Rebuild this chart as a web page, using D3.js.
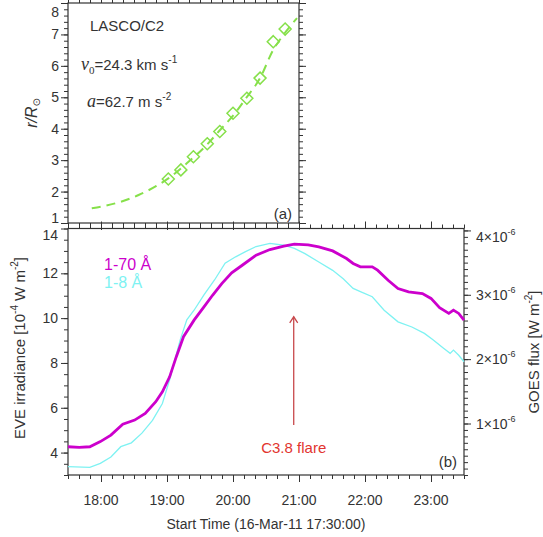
<!DOCTYPE html>
<html>
<head>
<meta charset="utf-8">
<script src="https://cdn.jsdelivr.net/npm/d3@7"></script>
<style>
  body { margin: 0; background: #fff; }
  text { font-family: "Liberation Sans", Arial, Helvetica, sans-serif; fill: #333; }
</style>
</head>
<body>
<div id="chart"></div>
<script>
// Panel (a): LASCO/C2 height-time, hours of 16-Mar-11
var fitHour = [17.86, 18.0, 18.26, 18.57, 18.84, 19.02, 19.3, 19.6, 19.8, 20.03, 20.2, 20.41, 20.61, 20.71, 20.97];
var fitR    = [1.47, 1.52, 1.65, 1.89, 2.18, 2.42, 2.9, 3.48, 3.95, 4.49, 4.98, 5.61, 6.51, 6.83, 7.52];
var obsHour = [19.02, 19.21, 19.40, 19.61, 19.80, 20.0, 20.21, 20.41, 20.61, 20.79];
var obsR    = [2.40, 2.69, 3.11, 3.52, 3.91, 4.49, 4.97, 5.61, 6.77, 7.17];

// Panel (b): EVE 1-70 A irradiance (1e-4 W m^-2) and GOES 1-8 A flux (1e-6 W m^-2)
var eveHour = [17.5, 17.67, 17.83, 17.99, 18.15, 18.33, 18.51, 18.67, 18.83, 18.93, 19.04, 19.14, 19.25, 19.41, 19.56, 19.69, 19.83, 19.98, 20.14, 20.35, 20.56, 20.77, 20.93, 21.14, 21.30, 21.51, 21.72, 21.82, 21.93, 22.11, 22.19, 22.35, 22.50, 22.66, 22.87, 23.0, 23.13, 23.27, 23.34, 23.42, 23.5];
var eveVal  = [4.26, 4.23, 4.26, 4.49, 4.78, 5.27, 5.45, 5.75, 6.27, 6.71, 7.38, 8.27, 9.17, 9.91, 10.5, 11.02, 11.54, 12.02, 12.36, 12.81, 13.06, 13.21, 13.30, 13.27, 13.18, 13.00, 12.66, 12.44, 12.29, 12.29, 12.14, 11.69, 11.32, 11.17, 11.10, 10.88, 10.47, 10.21, 10.36, 10.21, 9.91];
var goesHour = [17.5, 17.83, 17.99, 18.15, 18.30, 18.46, 18.62, 18.78, 18.93, 19.04, 19.12, 19.20, 19.30, 19.41, 19.56, 19.72, 19.88, 20.04, 20.19, 20.35, 20.56, 20.77, 20.93, 21.09, 21.30, 21.51, 21.67, 21.82, 21.93, 22.11, 22.29, 22.50, 22.71, 22.90, 23.03, 23.19, 23.29, 23.34, 23.42, 23.5];
var goesVal  = [0.33, 0.32, 0.38, 0.48, 0.64, 0.70, 0.85, 1.05, 1.31, 1.68, 1.99, 2.30, 2.61, 2.76, 3.0, 3.23, 3.49, 3.59, 3.67, 3.75, 3.80, 3.77, 3.72, 3.64, 3.51, 3.38, 3.25, 3.10, 3.05, 2.97, 2.76, 2.58, 2.50, 2.40, 2.30, 2.17, 2.09, 2.14, 2.06, 1.96];

// ticks
var hourTicks  = [18, 19, 20, 21, 22, 23];
var hourLabels = ["18:00", "19:00", "20:00", "21:00", "22:00", "23:00"];
var rTicks     = [1, 2, 3, 4, 5, 6, 7, 8];
var eveTicks   = [4, 6, 8, 10, 12, 14];
var goesTicks  = [1, 2, 3, 4];

// flare marker
var flareHour = 20.92, flareFrom = 5.23, flareTo = 10.06;

var W = 543, H = 537;
var svg = d3.select("#chart").append("svg").attr("width", W).attr("height", H);

// scales
var xa = d3.scaleLinear().domain([17.5, 21]).range([68, 299]);
var ya = d3.scaleLinear().domain([1, 8]).range([223, 3]);
var xb = d3.scaleLinear().domain([17.5, 23.5]).range([68, 464]);
var yb = d3.scaleLinear().domain([3, 14]).range([475, 228.5]);
var yg = d3.scaleLinear().domain([0.2, 4.03]).range([475, 228.5]);

var axisColor = "#333";

// draws outward ticks for one side of a frame
function ticks(axisFn, scale, major, minor, transform) {
  var gMin = svg.append("g").attr("transform", transform)
    .call(axisFn(scale).tickValues(minor).tickSize(4).tickSizeOuter(0).tickFormat(""));
  var gMaj = svg.append("g").attr("transform", transform)
    .call(axisFn(scale).tickValues(major).tickSize(7).tickSizeOuter(0).tickFormat(""));
  [gMin, gMaj].forEach(function(g) {
    g.select(".domain").remove();
    g.selectAll("line").attr("stroke", axisColor);
  });
}

var tenMin = d3.range(0, 37).map(function(i) { return 17.5 + i / 6; });
var tenMinA = tenMin.filter(function(h) { return h <= 21.001; });

// ---------- panel (a) ----------
ticks(d3.axisBottom, xa, [18, 19, 20, 21], tenMinA, "translate(0,223)");
ticks(d3.axisTop, xa, [18, 19, 20, 21], tenMinA, "translate(0,3)");
var rMinor = d3.range(0, 36).map(function(i) { return 1 + i * 0.2; });
ticks(d3.axisLeft, ya, rTicks, rMinor, "translate(68,0)");
ticks(d3.axisRight, ya, rTicks, rMinor, "translate(299,0)");

svg.append("rect").attr("x", 68).attr("y", 3).attr("width", 231).attr("height", 220)
  .attr("fill", "none").attr("stroke", axisColor).attr("stroke-width", 1.2);

svg.selectAll(".rlab").data(rTicks).enter().append("text")
  .attr("x", 59)
  .attr("y", function(d) { return Math.min(Math.max(ya(d), 12), 218); })
  .attr("dy", "0.36em")
  .attr("text-anchor", "end")
  .attr("font-size", 14)
  .text(function(d) { return d; });

var green = "#86e04a";
svg.append("path")
  .datum(fitHour.map(function(h, i) { return [h, fitR[i]]; }))
  .attr("d", d3.line().x(function(d) { return xa(d[0]); }).y(function(d) { return ya(d[1]); }).curve(d3.curveMonotoneX))
  .attr("fill", "none").attr("stroke", green).attr("stroke-width", 2)
  .attr("stroke-dasharray", "9,6");

svg.selectAll(".obs").data(obsHour).enter().append("path")
  .attr("transform", function(d, i) { return "translate(" + xa(d) + "," + ya(obsR[i]) + ")"; })
  .attr("d", "M0,-6L6,0L0,6L-6,0Z")
  .attr("fill", "none").attr("stroke", green).attr("stroke-width", 1.5);

svg.append("text").attr("x", 90).attr("y", 31).attr("font-size", 15).text("LASCO/C2");

var t1 = svg.append("text").attr("x", 81).attr("y", 70).attr("font-size", 15);
t1.append("tspan").attr("font-family", "'Liberation Serif', 'DejaVu Serif', serif").attr("font-style", "italic").attr("font-size", 18).text("v");
t1.append("tspan").attr("font-family", "'Liberation Serif', serif").attr("font-size", 11).attr("dy", 4).text("0");
t1.append("tspan").attr("dy", -4).text("=24.3 km s");
t1.append("tspan").attr("font-size", 10).attr("dy", -7).text("-1");

var t2 = svg.append("text").attr("x", 87).attr("y", 107).attr("font-size", 15);
t2.append("tspan").attr("font-family", "'Liberation Serif', 'DejaVu Serif', serif").attr("font-style", "italic").attr("font-size", 18).text("a");
t2.append("tspan").text("=62.7 m s");
t2.append("tspan").attr("font-size", 10).attr("dy", -7).text("-2");

var ra = svg.append("text").attr("transform", "translate(37,113) rotate(-90)")
  .attr("text-anchor", "middle").attr("font-size", 16)
  .attr("font-family", "'Liberation Serif', 'DejaVu Serif', serif").attr("font-style", "italic");
ra.append("tspan").text("r/R");
ra.append("tspan").attr("font-style", "normal").attr("font-family", "'DejaVu Sans', sans-serif").attr("font-size", 10).attr("dy", 3).text("\u2299");

svg.append("text").attr("x", 292).attr("y", 219).attr("text-anchor", "end").attr("font-size", 15).text("(a)");

// ---------- panel (b) ----------
ticks(d3.axisBottom, xb, hourTicks, tenMin, "translate(0,475)");
ticks(d3.axisTop, xb, hourTicks, tenMin, "translate(0,228.5)");
var eveMinor = d3.range(0, 23).map(function(i) { return 3 + i * 0.5; });
ticks(d3.axisLeft, yb, eveTicks, eveMinor, "translate(68,0)");
var goesMinor = d3.range(0, 39).map(function(i) { return 0.2 + i * 0.1; });
ticks(d3.axisRight, yg, goesTicks, goesMinor, "translate(464,0)");

svg.append("rect").attr("x", 68).attr("y", 228.5).attr("width", 396).attr("height", 246.5)
  .attr("fill", "none").attr("stroke", axisColor).attr("stroke-width", 1.2);

svg.selectAll(".hlab").data(hourTicks).enter().append("text")
  .attr("x", function(d) { return xb(d); })
  .attr("y", 505)
  .attr("text-anchor", "middle")
  .attr("font-size", 14)
  .text(function(d, i) { return hourLabels[i]; });

svg.append("text").attr("x", 266).attr("y", 529).attr("text-anchor", "middle")
  .attr("font-size", 14).text("Start Time (16-Mar-11 17:30:00)");

svg.selectAll(".elab").data(eveTicks).enter().append("text")
  .attr("x", 58)
  .attr("y", function(d) { return Math.max(yb(d), 235); })
  .attr("dy", "0.36em")
  .attr("text-anchor", "end")
  .attr("font-size", 14)
  .text(function(d) { return d; });

var glab = svg.selectAll(".glab").data(goesTicks).enter().append("text")
  .attr("x", 476)
  .attr("y", function(d) { return Math.max(yg(d), 237) + 5; })
  .attr("font-size", 14);
glab.append("tspan").text(function(d) { return d + "\u00d710"; });
glab.append("tspan").attr("font-size", 9).attr("dy", -7).text("-6");

var yl = svg.append("text").attr("transform", "translate(25,348) rotate(-90)")
  .attr("text-anchor", "middle").attr("font-size", 15);
yl.append("tspan").text("EVE irradiance [10");
yl.append("tspan").attr("font-size", 10).attr("dy", -7).text("-4");
yl.append("tspan").attr("dy", 7).text(" W m");
yl.append("tspan").attr("font-size", 10).attr("dy", -7).text("-2");
yl.append("tspan").attr("dy", 7).text("]");

var yr = svg.append("text").attr("transform", "translate(539,352) rotate(-90)")
  .attr("text-anchor", "middle").attr("font-size", 15);
yr.append("tspan").text("GOES flux [W m");
yr.append("tspan").attr("font-size", 10).attr("dy", -7).text("-2");
yr.append("tspan").attr("dy", 7).text("]");

// curves
var cyan = "#7ef2f2", magenta = "#cc00cc";
svg.append("path")
  .datum(goesHour.map(function(h, i) { return [h, goesVal[i]]; }))
  .attr("d", d3.line().x(function(d) { return xb(d[0]); }).y(function(d) { return yg(d[1]); }))
  .attr("fill", "none").attr("stroke", cyan).attr("stroke-width", 1.3);

svg.append("path")
  .datum(eveHour.map(function(h, i) { return [h, eveVal[i]]; }))
  .attr("d", d3.line().x(function(d) { return xb(d[0]); }).y(function(d) { return yb(d[1]); }))
  .attr("fill", "none").attr("stroke", magenta).attr("stroke-width", 2.8);

svg.append("text").attr("x", 104).attr("y", 270).attr("font-size", 16).style("fill", magenta).text("1-70 \u00c5");
svg.append("text").attr("x", 104).attr("y", 288).attr("font-size", 16).style("fill", cyan).text("1-8 \u00c5");

// flare arrow
var ax = xb(flareHour), aTop = yb(flareTo);
svg.append("line").attr("x1", ax).attr("x2", ax).attr("y1", yb(flareFrom)).attr("y2", aTop)
  .attr("stroke", "#c8484c").attr("stroke-width", 1.3);
svg.append("path")
  .attr("d", "M" + (ax - 4) + "," + (aTop + 6) + "L" + ax + "," + aTop + "L" + (ax + 4) + "," + (aTop + 6))
  .attr("fill", "none").attr("stroke", "#c8484c").attr("stroke-width", 1.3);
svg.append("text").attr("x", ax).attr("y", 453).attr("text-anchor", "middle")
  .attr("font-size", 15).style("fill", "#e2352f").text("C3.8 flare");

svg.append("text").attr("x", 457).attr("y", 467).attr("text-anchor", "end").attr("font-size", 15).text("(b)");
</script>
</body>
</html>
